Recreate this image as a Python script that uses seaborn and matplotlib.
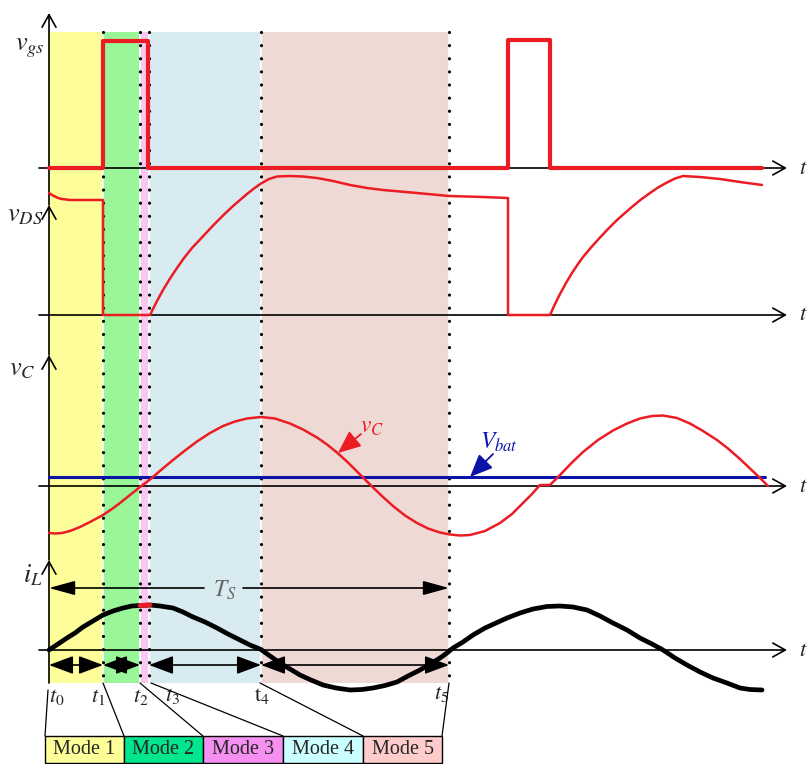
import numpy as np
import pandas as pd
import matplotlib
matplotlib.use("Agg")
import matplotlib.pyplot as plt
import seaborn as sns
from matplotlib.patches import Rectangle

# ---------------- data (time on the drawing's time axis) ----------------
t_marks = [49, 103, 140, 149, 261, 449]          # t0 .. t5
t_labels = [r"$t_0$", r"$t_1$", r"$t_2$", r"$t_3$", r"$\mathrm{t}_4$", r"$t_5$"]
modes = ["Mode 1", "Mode 2", "Mode 3", "Mode 4", "Mode 5"]
mode_shade = ["#FDFD99", "#99F699", "#F6C8F2", "#D8EBF1", "#EFD9D5"]
mode_box = ["#FFFF99", "#00E68C", "#F590F0", "#CCFFFF", "#FFCCCC"]

vgs_t = [49, 103, 103, 148, 148, 508, 508, 550, 550, 762]
vgs_v = [0, 0, 127, 127, 0, 0, 128, 128, 0, 0]

vds_t = [49, 52, 55, 58, 62, 66, 70, 101, 103, 103, 150, 154, 157, 163, 170, 177, 184,
         192, 200, 207, 215, 224, 233, 240, 247, 254, 261, 269, 277, 290, 303, 317,
         333, 350, 367, 383, 400, 417, 433, 449, 466, 483, 508, 508, 550, 555, 560, 566,
         572, 578, 583, 591, 600, 608, 617, 625, 633, 641, 650, 658, 667, 675, 683, 700,
         720, 740, 762]
vds_v = [122, 120, 118.5, 117, 116, 115.5, 115, 115, 115, 0, 0, 8, 14, 25, 36.5, 47, 57,
         67, 75.5, 83, 91.5, 100.5, 109, 115, 121, 126.5, 131.5, 136, 138.5, 139, 138.5, 137,
         134, 130, 127, 125, 123.5, 122, 120.5, 119, 118.5, 118, 117, 0, 0, 11, 21, 32,
         42, 51, 58, 67.5, 77.5, 86, 95, 102, 109, 115.5, 122, 127.5, 132.5, 136.5, 139, 138,
         136, 133, 130]

vc_t = [49, 55, 62, 70, 80, 90, 103, 112, 120, 130, 140, 150, 161, 173, 185, 197, 210,
        223, 235, 247, 261, 275, 290, 303, 317, 327, 337, 348, 360, 373, 383, 393, 405,
        417, 428, 440, 450, 460, 470, 485, 500, 512, 523, 532, 540, 550, 560, 571, 583,
        598, 613, 627, 640, 652, 663, 677, 690, 703, 717, 728, 740, 750, 760, 768]
vc_v = [-47, -47.5, -47, -45, -41, -36, -29, -23, -17, -9, -1, 6.5, 16, 26, 35.5, 44.5, 53,
        60, 64.5, 67.5, 69, 67.5, 62.5, 56.5, 48.5, 41.5, 33.5, 23.5, 11.5, -1.5, -11, -20, -29.5,
        -37, -42.5, -46.5, -48.5, -49.5, -49, -45, -37, -28, -17, -8, 1, 1, 11, 22.5, 34,
        46, 55.5, 62.5, 67.5, 70, 70.5, 68, 62.5, 55, 46, 37.5, 27, 17.5, 8, 0]
v_bat = 9

il_t = [49, 58, 67, 75, 83, 93, 103, 113, 123, 132, 140, 150, 160, 173, 183, 193, 205,
        217, 228, 240, 250, 261, 270, 280, 290, 300, 311, 323, 336, 350, 362, 373, 385,
        397, 408, 420, 430, 440, 447, 453, 463, 473, 485, 496, 507, 520, 533, 547, 560,
        573, 587, 600, 613, 627, 640, 652, 663, 675, 687, 700, 713, 727, 740, 750, 762]
il_v = [0, 6, 12, 17, 23, 29, 35, 39, 42, 44, 44.5, 45, 44, 42, 38, 33, 28,
        22, 16, 10, 5, 0.5, -6, -13, -19, -25, -30, -35, -38, -40, -39.5, -38, -35.5,
        -32, -26, -20, -14, -8, -3, 2, 8, 15, 22, 27, 32, 37, 41, 43.5, 44,
        43, 40, 34, 27, 20, 12, 6, 0, -8, -15, -22, -28, -33, -38, -39.5, -40]

# ---------------- layout ----------------
RED = "#EC1C24"
BLUE = "#0C14A8"
base = {"vgs": 168, "vds": 315, "vc": 486, "il": 650}
axis_top = {"vgs": 13, "vds": 205, "vc": 355, "il": 560}
shade_top, shade_bot = 32, 683
x_axis_left, x_axis_right = 39, 787

sns.set_theme(style="white")
plt.rcParams["font.family"] = ["Liberation Serif", "DejaVu Serif"]
plt.rcParams["mathtext.fontset"] = "stix"

fig = plt.figure(figsize=(8.07, 7.64), dpi=100)
ax = fig.add_axes([0, 0, 1, 1])

# shaded mode regions
for i in range(5):
    ax.fill_between([t_marks[i], t_marks[i + 1]], shade_top, shade_bot,
                    color=mode_shade[i], lw=0, zorder=0)
# dotted instants
for x in t_marks[1:]:
    ax.plot([x, x], [shade_top, shade_bot], color="white", lw=1.2, zorder=1)
    ax.plot([x, x], [shade_top, shade_bot], color="black", lw=2.3,
            linestyle=(0, (0.01, 4.1)), dash_capstyle="round", zorder=5)

# axes
arrow_open = dict(arrowstyle="->,head_length=0.45,head_width=0.25", lw=1.2,
                  color="black", shrinkA=0, shrinkB=0, mutation_scale=20)
for k, y0 in base.items():
    ax.annotate("", xy=(x_axis_right, y0), xytext=(x_axis_left, y0),
                arrowprops=arrow_open, zorder=3)
    ax.text(803, y0 + 1, r"$t$", fontsize=16, ha="center", va="center")
segs = [(shade_bot, axis_top["il"]), (axis_top["il"], axis_top["vc"]),
        (axis_top["vc"], axis_top["vds"]), (axis_top["vds"], axis_top["vgs"])]
for y_from, y_to in segs:
    ax.annotate("", xy=(t_marks[0], y_to), xytext=(t_marks[0], y_from),
                arrowprops=arrow_open, zorder=3)

# waveforms
def wave(t, v, key, **kw):
    df = pd.DataFrame({"t": t, "y": [base[key] - a for a in v]})
    sns.lineplot(data=df, x="t", y="y", sort=False, estimator=None, ax=ax, **kw)

wave(vgs_t, vgs_v, "vgs", color=RED, lw=3.0, zorder=6)
wave(vds_t, vds_v, "vds", color=RED, lw=1.8, zorder=6)
ax.plot([t_marks[0], 765], [base["vc"] - v_bat] * 2, color=BLUE, lw=2.2, zorder=6)
wave(vc_t, vc_v, "vc", color=RED, lw=1.8, zorder=7)
wave(il_t, il_v, "il", color="black", lw=3.4, zorder=6)
pk = [i for i, t in enumerate(il_t) if t_marks[2] <= t <= t_marks[3] + 1]
wave([il_t[i] for i in pk], [il_v[i] for i in pk], "il", color=RED, lw=3.4, zorder=7)
ax.set_xlim(0, 807)
ax.set_ylim(764, 0)
ax.axis("off")

# signal labels
ax.text(30, 48, r"$v_{gs}$", fontsize=19, ha="center", va="center")
ax.text(25, 216, r"$v_{DS}$", fontsize=19, ha="center", va="center")
ax.text(22, 370, r"$v_C$", fontsize=19, ha="center", va="center")
ax.text(33, 575, r"$i_L$", fontsize=19, ha="center", va="center")

ax.text(372, 427, r"$v_C$", fontsize=17, color=RED, ha="center", va="center")
ax.annotate("", xy=(338, 453), xytext=(361, 434),
            arrowprops=dict(arrowstyle="-|>,head_length=0.7,head_width=0.3", lw=1.3,
                            color=RED, shrinkA=0, shrinkB=0, mutation_scale=20), zorder=8)
ax.text(499, 442, r"$V_{bat}$", fontsize=17, color=BLUE, ha="center", va="center")
ax.annotate("", xy=(470, 477), xytext=(493, 454),
            arrowprops=dict(arrowstyle="-|>,head_length=0.7,head_width=0.3", lw=1.3,
                            color=BLUE, shrinkA=0, shrinkB=0, mutation_scale=20), zorder=8)

# Ts period arrow
arrow_fill = dict(arrowstyle="-|>,head_length=0.8,head_width=0.22", lw=1.2,
                  color="black", shrinkA=0, shrinkB=0, mutation_scale=20)
ax.annotate("", xy=(t_marks[0], 588), xytext=(204, 588), arrowprops=arrow_fill, zorder=8)
ax.annotate("", xy=(t_marks[5], 588), xytext=(243, 588), arrowprops=arrow_fill, zorder=8)
ax.text(225, 590, r"$T_S$", fontsize=17, color="#666666", ha="center", va="center")

# mode duration arrows
arrow_dbl = dict(arrowstyle="<|-|>,head_length=0.75,head_width=0.28", lw=1.2,
                 color="black", shrinkA=0, shrinkB=0, mutation_scale=20)
for i in range(5):
    if i == 2:
        continue
    ax.annotate("", xy=(t_marks[i + 1], 665), xytext=(t_marks[i], 665),
                arrowprops=arrow_dbl, zorder=8)

# time instant labels and leaders to the mode boxes
box_x = [45, 124, 203, 283, 363, 442]
label_pos = [(57, 697), (98, 697), (141, 697), (172, 696), (262, 696), (441, 694)]
leader_start = [(48, 690), (103, 683), (140, 683), (151, 683), (260, 683), (449, 683)]
for lbl, (lx, ly) in zip(t_labels, label_pos):
    ax.text(lx, ly, lbl, fontsize=16, ha="center", va="center")
for (sx, sy), bx in zip(leader_start, box_x):
    ax.plot([sx, bx], [sy, 736], color="black", lw=0.9, zorder=4)

for i, m in enumerate(modes):
    ax.add_patch(Rectangle((box_x[i], 736), box_x[i + 1] - box_x[i], 27,
                           facecolor=mode_box[i], edgecolor="black", lw=1.0, zorder=4))
    ax.text((box_x[i] + box_x[i + 1]) / 2, 750, m, fontsize=14.5,
            ha="center", va="center", zorder=5)

fig.savefig("out.png", dpi=100)
